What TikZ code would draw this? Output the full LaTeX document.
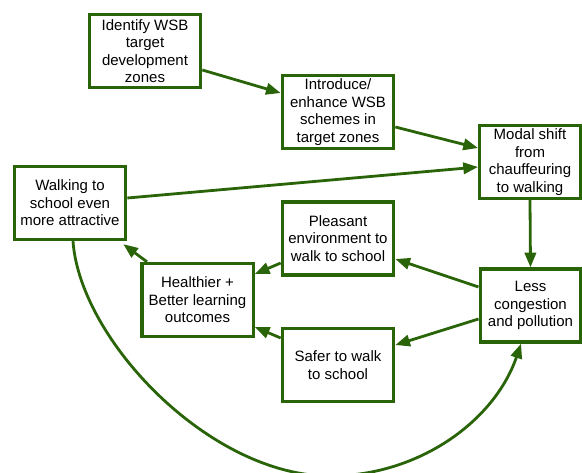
\documentclass[tikz,border=0pt]{standalone}
\usepackage{fontspec}
\setmainfont{Liberation Sans}
\usetikzlibrary{arrows.meta,calc}
\definecolor{wsbgreen}{RGB}{42,100,8}
\begin{document}
\begin{tikzpicture}[x=0.75pt,y=-0.75pt,
  box/.style={draw=wsbgreen,line width=2.5pt,fill=white,align=center,inner sep=0pt,
    minimum width=83.5pt,minimum height=54.75pt,
    font=\fontsize{11.25}{13.1}\selectfont},
  narrowbox/.style={box,minimum width=75.5pt},
  link/.style={draw=wsbgreen,line width=2.1pt,-{Triangle[length=11pt,width=8.5pt]}}]
\useasboundingbox (0,0) rectangle (582,472);
\node[box] (b1) at (145,51) {Identify WSB\\target\\development\\zones};
\node[box] (b2) at (338,112) {Introduce/\\enhance WSB\\schemes in\\target zones};
\node[narrowbox] (b3) at (530,162) {Modal shift\\from\\chauffeuring\\to walking};
\node[box] (b4) at (70,203) {Walking to\\school even\\more attractive};
\node[box] (b5) at (197.5,300) {Healthier +\\Better learning\\outcomes};
\node[box] (b6) at (338,238.5) {Pleasant\\environment to\\walk to school};
\node[narrowbox] (b7) at (530.5,305.5) {Less\\congestion\\and pollution};
\node[box] (b8) at (338,365) {Safer to walk\\to school};
\draw[link] ([yshift=-14.25pt]b1.east) -- ([yshift=14.25pt]b2.west);
\draw[link] ([yshift=-11.25pt]b2.east) -- ([yshift=10.5pt]b3.west);
\draw[link] ([yshift=3.75pt]b4.east) -- ([yshift=-3.75pt]b3.west);
\draw[link] (b3.south) -- (b7.north);
\draw[link] ([yshift=13.9pt]b7.west) -- ([yshift=-15.4pt]b6.east);
\draw[link] ([yshift=-10.1pt]b7.west) -- ([yshift=15pt]b8.east);
\draw[link] ([yshift=-18.4pt]b6.west) -- ([yshift=19.5pt]b5.east);
\draw[link] ([yshift=20.25pt]b8.west) -- ([yshift=-20.25pt]b5.east);
\draw[link] ([xshift=-37.9pt]b5.north) -- ([xshift=-3pt,yshift=-2.25pt]b4.south east);
\draw[link] ([xshift=2.25pt]b4.south) .. controls (80,340) and (210,476) .. (330,476)
  .. controls (420,476) and (495,420) .. ([xshift=-7.1pt]b7.south);
\end{tikzpicture}
\end{document}
